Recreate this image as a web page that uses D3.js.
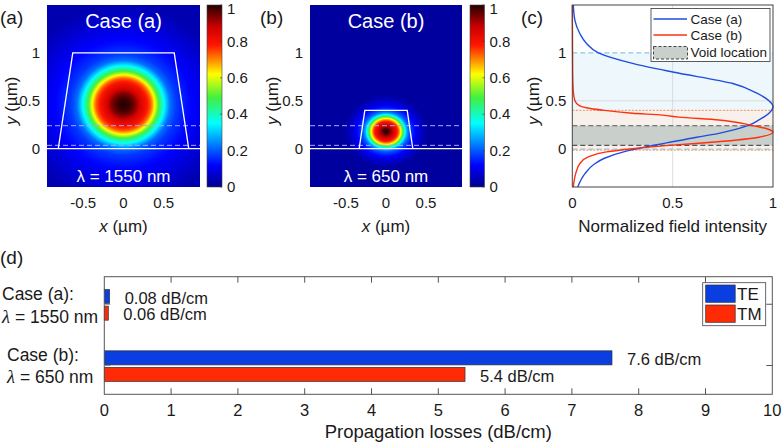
<!DOCTYPE html>
<html>
<head>
<meta charset="utf-8">
<script src="https://cdn.jsdelivr.net/npm/d3@7"></script>
<style>
    body { margin: 0; background: #fff; }
    text { font-family: "Liberation Sans", Arial, sans-serif; fill: #1a1a1a; }
</style>
</head>
<body>
<svg id="fig" width="783" height="444"></svg>
<script>
// ---- data ----
const mapXTicks = [-0.5, 0, 0.5];
const mapYTicks = [0, 0.5, 1];
const cbarTicks = [0, 0.2, 0.4, 0.6, 0.8, 1];

// radial mode profile (radius in um along x, normalized intensity)
const profileRadiusA = [0, 0.08, 0.15, 0.2, 0.28, 0.34, 0.38, 0.41, 0.45, 0.5, 0.54, 0.58, 0.66, 0.8, 1.0, 1.3];
const profileLevelA  = [1, 0.98, 0.93, 0.87, 0.8, 0.73, 0.64, 0.56, 0.46, 0.36, 0.29, 0.22, 0.17, 0.13, 0.09, 0.04];
const profileRadiusB = [0, 0.04, 0.06, 0.1, 0.15, 0.17, 0.19, 0.21, 0.225, 0.245, 0.26, 0.29, 0.34, 0.41, 0.52];
const profileLevelB  = [1, 0.97, 0.92, 0.86, 0.76, 0.68, 0.6, 0.5, 0.42, 0.34, 0.27, 0.2, 0.14, 0.08, 0.02];
const modeCenterA = [0, 0.46];
const modeCenterB = [0, 0.18];

const waveguideA = [[-0.81, 0], [-0.63, 1], [0.63, 1], [0.81, 0]];
const waveguideB = [[-0.335, 0], [-0.265, 0.40], [0.265, 0.40], [0.335, 0]];
const voidEdges = [0.035, 0.24];
const coreEdgesA = [-0.005, 1.0];
const coreEdgesB = [-0.015, 0.40];

// vertical cuts at x = 0 (panel c)
const cutYA = [-0.40, -0.26, -0.16, -0.10, -0.03, 0.02, 0.06, 0.12, 0.16, 0.245, 0.30, 0.37, 0.44, 0.50, 0.58, 0.68, 0.80, 0.89, 1.00, 1.10, 1.20, 1.34, 1.50];
const cutIA = [0.027, 0.063, 0.11, 0.16, 0.26, 0.37, 0.47, 0.62, 0.73, 0.88, 0.93, 0.98, 1.00, 0.98, 0.92, 0.80, 0.50, 0.30, 0.13, 0.07, 0.038, 0.013, 0.005];
const cutYB = [-0.40, -0.26, -0.155, -0.086, -0.033, 0.0, 0.037, 0.07, 0.12, 0.175, 0.20, 0.245, 0.30, 0.33, 0.35, 0.37, 0.40, 0.42, 0.45, 0.50, 0.60, 0.80, 1.50];
const cutIB = [0.005, 0.017, 0.038, 0.08, 0.17, 0.30, 0.50, 0.71, 0.93, 1.0, 0.98, 0.89, 0.73, 0.53, 0.45, 0.30, 0.16, 0.09, 0.035, 0.013, 0.005, 0.002, 0.0];
const cutXTicks = [0, 0.5, 1];

// propagation losses (panel d)
const lossCases = [1, 2];
const lossTE = [0.08, 7.6];
const lossTM = [0.06, 5.4];
const lossXTicks = d3.range(0, 11);

// ---- styles ----
const cmapDomain = [0, 0.12, 0.35, 0.49, 0.62, 0.7, 0.78, 0.88, 1];
const cmapColors = ['#00008a', '#0000ff', '#00ffff', '#40f040', '#ffff00', '#ff8800', '#ff1500', '#cc0000', '#240000'];
const cmap = d3.scaleLinear().domain(cmapDomain).range(cmapColors).clamp(true);

const svg = d3.select('#fig');
const defs = svg.append('defs');

// shared vertical scale for panels a-c
const yS = d3.scaleLinear().domain([-0.4, 1.5]).range([187, 5]);

/**
 * Draw one field map with its colorbar
 */
function drawFieldMap(cfg) {
    const xS = d3.scaleLinear().domain([-0.95, 0.95]).range([cfg.x0, cfg.x1]);
    const g = svg.append('g');

    defs.append('clipPath').attr('id', 'clip-' + cfg.id)
        .append('rect')
        .attr('x', cfg.x0).attr('y', yS(1.5))
        .attr('width', cfg.x1 - cfg.x0).attr('height', yS(-0.4) - yS(1.5));

    // radial gradient built from the profile
    const grad = defs.append('radialGradient').attr('id', 'mode-' + cfg.id);
    const rMax = cfg.radius[cfg.radius.length - 1];
    cfg.radius.forEach((r, i) => {
        const nSub = i < cfg.radius.length - 1 ? 8 : 1;
        for (let k = 0; k < nSub; k++) {
            const t = k / nSub;
            const rr = i < cfg.radius.length - 1 ? r + (cfg.radius[i + 1] - r) * t : r;
            const lv = i < cfg.radius.length - 1 ? cfg.level[i] + (cfg.level[i + 1] - cfg.level[i]) * t : cfg.level[i];
            grad.append('stop').attr('offset', rr / rMax).attr('stop-color', cmap(lv));
        }
    });

    const img = g.append('g').attr('clip-path', `url(#clip-${cfg.id})`);
    img.append('rect')
        .attr('x', cfg.x0).attr('y', yS(1.5))
        .attr('width', cfg.x1 - cfg.x0).attr('height', yS(-0.4) - yS(1.5))
        .attr('fill', cmap(cfg.level[cfg.level.length - 1]));
    img.append('ellipse')
        .attr('cx', xS(cfg.center[0])).attr('cy', yS(cfg.center[1]))
        .attr('rx', xS(rMax) - xS(0))
        .attr('ry', yS(0) - yS(rMax * cfg.aspect))
        .attr('fill', `url(#mode-${cfg.id})`);

    // void location
    img.selectAll('line.void')
        .data(voidEdges)
        .enter().append('line')
        .attr('x1', cfg.x0).attr('x2', cfg.x1)
        .attr('y1', d => yS(d)).attr('y2', d => yS(d))
        .attr('stroke', '#a8a8ff').attr('stroke-width', 1)
        .attr('stroke-dasharray', '5,3');

    // substrate line and waveguide outline
    img.append('line')
        .attr('x1', cfg.x0).attr('x2', cfg.x1)
        .attr('y1', yS(0)).attr('y2', yS(0))
        .attr('stroke', '#fff').attr('stroke-width', 1.3);
    img.append('path')
        .attr('d', d3.line().x(d => xS(d[0])).y(d => yS(d[1]))(cfg.guide))
        .attr('fill', 'none').attr('stroke', '#fff').attr('stroke-width', 1.3);

    img.append('text')
        .attr('x', xS(0)).attr('y', 28)
        .attr('text-anchor', 'middle')
        .style('font-size', '20px').style('fill', '#fff')
        .text(cfg.title);
    img.append('text')
        .attr('x', xS(0)).attr('y', 182)
        .attr('text-anchor', 'middle')
        .style('font-size', '17px').style('fill', '#fff')
        .text(cfg.lambda);

    // tick labels
    g.selectAll('text.xt')
        .data(mapXTicks)
        .enter().append('text')
        .attr('x', d => xS(d)).attr('y', 208)
        .attr('text-anchor', 'middle')
        .style('font-size', '15px')
        .text(d => d);
    g.selectAll('text.yt')
        .data(mapYTicks)
        .enter().append('text')
        .attr('x', cfg.x0 - 7).attr('y', d => yS(d))
        .attr('dy', '0.35em')
        .attr('text-anchor', 'end')
        .style('font-size', '15px')
        .text(d => d);

    const xl = g.append('text')
        .attr('x', xS(0)).attr('y', 232)
        .attr('text-anchor', 'middle')
        .style('font-size', '17px');
    xl.append('tspan').style('font-style', 'italic').text('x');
    xl.append('tspan').text(' (µm)');

    const yl = g.append('text')
        .attr('transform', `translate(${cfg.yLabelX},${yS(0.5)}) rotate(-90)`)
        .attr('dy', '0.35em')
        .attr('text-anchor', 'middle')
        .style('font-size', '17px');
    yl.append('tspan').style('font-style', 'italic').text('y');
    yl.append('tspan').text(' (µm)');

    g.append('text')
        .attr('x', cfg.letterX).attr('y', 24)
        .style('font-size', '19px')
        .text(cfg.letter);

    // colorbar
    const cS = d3.scaleLinear().domain([0, 1]).range([yS(-0.4), yS(1.5)]);
    const cg = defs.append('linearGradient').attr('id', 'cbar-' + cfg.id)
        .attr('x1', 0).attr('y1', 1).attr('x2', 0).attr('y2', 0);
    cmapDomain.forEach((d, i) => {
        cg.append('stop').attr('offset', d).attr('stop-color', cmapColors[i]);
    });
    g.append('rect')
        .attr('x', cfg.cbX).attr('y', cS(1))
        .attr('width', cfg.cbW).attr('height', cS(0) - cS(1))
        .attr('fill', `url(#cbar-${cfg.id})`)
        .attr('stroke', '#444').attr('stroke-width', 0.6);
    g.selectAll('line.cbt')
        .data(cbarTicks)
        .enter().append('line')
        .attr('x1', cfg.cbX + cfg.cbW - 2).attr('x2', cfg.cbX + cfg.cbW)
        .attr('y1', d => cS(d)).attr('y2', d => cS(d))
        .attr('stroke', '#333').attr('stroke-width', 0.6);
    g.selectAll('text.cbl')
        .data(cbarTicks)
        .enter().append('text')
        .attr('x', cfg.cbX + cfg.cbW + 5)
        .attr('y', d => Math.max(cS(d), 8.5))
        .attr('dy', '0.35em')
        .style('font-size', '15px')
        .text(d => d);
}

drawFieldMap({
    id: 'a', x0: 47, x1: 200, cbX: 207, cbW: 15, letter: '(a)', letterX: 0, yLabelX: 11,
    title: 'Case (a)', lambda: 'λ = 1550 nm',
    radius: profileRadiusA, level: profileLevelA, center: modeCenterA, aspect: 0.8,
    guide: waveguideA
});
drawFieldMap({
    id: 'b', x0: 310, x1: 462, cbX: 470, cbW: 14.5, letter: '(b)', letterX: 260, yLabelX: 272,
    title: 'Case (b)', lambda: 'λ = 650 nm',
    radius: profileRadiusB, level: profileLevelB, center: modeCenterB, aspect: 0.73,
    guide: waveguideB
});

// ---- panel (c): cuts ----
(function drawCuts() {
    const xC = d3.scaleLinear().domain([0, 1]).range([572.3, 773]);
    const g = svg.append('g');

    const bands = [
        { e: coreEdgesA, fill: '#eef8fc' },
        { e: coreEdgesB, fill: '#f7f0eb' },
        { e: voidEdges, fill: '#c9d0cb' }
    ];
    g.selectAll('rect.band')
        .data(bands)
        .enter().append('rect')
        .attr('x', xC(0)).attr('width', xC(1) - xC(0))
        .attr('y', d => yS(d.e[1]))
        .attr('height', d => yS(d.e[0]) - yS(d.e[1]))
        .attr('fill', d => d.fill);

    // grid
    g.append('line')
        .attr('x1', xC(0.5)).attr('x2', xC(0.5))
        .attr('y1', yS(1.5)).attr('y2', yS(-0.4))
        .attr('stroke', '#cfcfcf').attr('stroke-opacity', 0.7);
    g.append('line')
        .attr('x1', xC(0)).attr('x2', xC(1))
        .attr('y1', yS(0.5)).attr('y2', yS(0.5))
        .attr('stroke', '#cfcfcf').attr('stroke-opacity', 0.7);

    const edgeLines = [
        { v: coreEdgesA[0], c: '#8ec6e8', dash: '5,3' },
        { v: coreEdgesA[1], c: '#8ec6e8', dash: '5,3' },
        { v: coreEdgesB[0], c: '#f4a070', dash: '2,1.5' },
        { v: coreEdgesB[1], c: '#f4a070', dash: '2,1.5' },
        { v: voidEdges[0], c: '#555', dash: '5,3' },
        { v: voidEdges[1], c: '#555', dash: '5,3' }
    ];
    g.selectAll('line.edge')
        .data(edgeLines)
        .enter().append('line')
        .attr('x1', xC(0)).attr('x2', xC(1))
        .attr('y1', d => yS(d.v)).attr('y2', d => yS(d.v))
        .attr('stroke', d => d.c).attr('stroke-width', 1.1)
        .attr('stroke-dasharray', d => d.dash);

    const line = d3.line()
        .x(d => xC(d[1])).y(d => yS(d[0]))
        .curve(d3.curveMonotoneY);
    g.append('path')
        .attr('d', line(cutYA.map((y, i) => [y, cutIA[i]])))
        .attr('fill', 'none').attr('stroke', '#1f4de0').attr('stroke-width', 1.4);
    g.append('path')
        .attr('d', line(cutYB.map((y, i) => [y, cutIB[i]])))
        .attr('fill', 'none').attr('stroke', '#ff3010').attr('stroke-width', 1.4);

    g.append('rect')
        .attr('x', xC(0)).attr('y', yS(1.5))
        .attr('width', xC(1) - xC(0)).attr('height', yS(-0.4) - yS(1.5))
        .attr('fill', 'none').attr('stroke', '#444').attr('stroke-width', 1);

    g.selectAll('text.xt')
        .data(cutXTicks)
        .enter().append('text')
        .attr('x', d => xC(d)).attr('y', 208)
        .attr('text-anchor', 'middle')
        .style('font-size', '15px')
        .text(d => d);
    g.selectAll('text.yt')
        .data(mapYTicks)
        .enter().append('text')
        .attr('x', xC(0) - 6).attr('y', d => yS(d))
        .attr('dy', '0.35em')
        .attr('text-anchor', 'end')
        .style('font-size', '15px')
        .text(d => d);
    g.append('text')
        .attr('x', (xC(0) + xC(1)) / 2).attr('y', 232)
        .attr('text-anchor', 'middle')
        .style('font-size', '17px')
        .text('Normalized field intensity');
    const yl = g.append('text')
        .attr('transform', `translate(533,${yS(0.5)}) rotate(-90)`)
        .attr('dy', '0.35em')
        .attr('text-anchor', 'middle')
        .style('font-size', '17px');
    yl.append('tspan').style('font-style', 'italic').text('y');
    yl.append('tspan').text(' (µm)');
    g.append('text')
        .attr('x', 521).attr('y', 24)
        .style('font-size', '19px')
        .text('(c)');

    // legend
    const lg = g.append('g');
    lg.append('rect')
        .attr('x', 651).attr('y', 8.5).attr('width', 119).attr('height', 53)
        .attr('fill', '#fff').attr('stroke', '#333').attr('stroke-width', 0.8);
    const items = [
        { label: 'Case (a)', c: '#1f4de0', y: 19 },
        { label: 'Case (b)', c: '#ff3010', y: 35 }
    ];
    items.forEach(it => {
        lg.append('line')
            .attr('x1', 653.5).attr('x2', 687).attr('y1', it.y).attr('y2', it.y)
            .attr('stroke', it.c).attr('stroke-width', 1.4);
        lg.append('text')
            .attr('x', 690.5).attr('y', it.y).attr('dy', '0.35em')
            .style('font-size', '13.5px').text(it.label);
    });
    lg.append('rect')
        .attr('x', 653.5).attr('y', 46.5).attr('width', 34).attr('height', 12.5)
        .attr('fill', '#c9d0cb').attr('stroke', '#444').attr('stroke-width', 1)
        .attr('stroke-dasharray', '3,2');
    lg.append('text')
        .attr('x', 690.5).attr('y', 52.5).attr('dy', '0.35em')
        .style('font-size', '13.5px').text('Void location');
})();

// ---- panel (d): losses ----
(function drawLosses() {
    const xD = d3.scaleLinear().domain([0, 10]).range([104.3, 772.3]);
    const yD = d3.scaleLinear().domain([0.55, 2.47]).range([276.7, 394.3]);
    const g = svg.append('g');
    const barH = yD(0.23) - yD(0);
    const series = [
        { name: 'TE', values: lossTE, off: -0.125, fill: '#0a3ee0' },
        { name: 'TM', values: lossTM, off: 0.145, fill: '#ff2a06' }
    ];

    series.forEach(s => {
        g.selectAll(null)
            .data(lossCases)
            .enter().append('rect')
            .attr('x', xD(0))
            .attr('y', (d, i) => yD(d + s.off) - barH / 2)
            .attr('width', (d, i) => xD(s.values[i]) - xD(0))
            .attr('height', barH)
            .attr('fill', s.fill)
            .attr('stroke', '#333').attr('stroke-width', 0.7);
        g.selectAll(null)
            .data(lossCases)
            .enter().append('text')
            .attr('x', (d, i) => xD(s.values[i]) + 15)
            .attr('y', (d, i) => yD(d + s.off) + 1.5)
            .attr('dy', '0.35em')
            .style('font-size', '16.5px')
            .text((d, i) => `${s.values[i]} dB/cm`);
    });

    // axes box and ticks
    g.append('rect')
        .attr('x', xD(0)).attr('y', yD(0.55))
        .attr('width', xD(10) - xD(0)).attr('height', yD(2.47) - yD(0.55))
        .attr('fill', 'none').attr('stroke', '#555').attr('stroke-width', 1);
    g.selectAll('line.bt')
        .data(lossXTicks.slice(1, -1))
        .enter().append('line')
        .attr('x1', d => xD(d)).attr('x2', d => xD(d))
        .attr('y1', yD(2.47)).attr('y2', yD(2.47) - 6)
        .attr('stroke', '#555');
    g.selectAll('line.tt')
        .data(lossXTicks.slice(1, -1))
        .enter().append('line')
        .attr('x1', d => xD(d)).attr('x2', d => xD(d))
        .attr('y1', yD(0.55)).attr('y2', yD(0.55) + 6)
        .attr('stroke', '#555');
    g.selectAll('line.rt')
        .data(lossCases)
        .enter().append('line')
        .attr('x1', xD(10)).attr('x2', xD(10) - 6)
        .attr('y1', d => yD(d)).attr('y2', d => yD(d))
        .attr('stroke', '#555');
    g.selectAll('line.lt')
        .data(lossCases)
        .enter().append('line')
        .attr('x1', xD(0)).attr('x2', xD(0) + 6)
        .attr('y1', d => yD(d)).attr('y2', d => yD(d))
        .attr('stroke', '#888');

    g.selectAll('text.xt')
        .data(lossXTicks)
        .enter().append('text')
        .attr('x', d => xD(d)).attr('y', 416)
        .attr('text-anchor', 'middle')
        .style('font-size', '16.5px')
        .text(d => d);
    g.append('text')
        .attr('x', (xD(0) + xD(10)) / 2).attr('y', 438)
        .attr('text-anchor', 'middle')
        .style('font-size', '18.5px')
        .text('Propagation losses (dB/cm)');

    // category labels
    const cats = [
        { t: 'Case (a):', l: '1550 nm', x: 2, y1: 300, y2: 323 },
        { t: 'Case (b):', l: '650 nm', x: 7, y1: 361, y2: 383 }
    ];
    cats.forEach(c => {
        g.append('text').attr('x', c.x).attr('y', c.y1)
            .style('font-size', '17.5px').text(c.t);
        const t2 = g.append('text').attr('x', c.x).attr('y', c.y2)
            .style('font-size', '17.5px');
        t2.append('tspan').style('font-family', '"Liberation Serif", serif')
            .style('font-style', 'italic').style('font-size', '18.5px').text('λ');
        t2.append('tspan').text(' = ' + c.l);
    });

    g.append('text').attr('x', 0).attr('y', 264)
        .style('font-size', '19px').text('(d)');

    // legend
    const lg = g.append('g');
    lg.append('rect')
        .attr('x', 702.7).attr('y', 282.7).attr('width', 63).attr('height', 43)
        .attr('fill', '#fff').attr('stroke', '#444').attr('stroke-width', 0.8);
    series.forEach((s, i) => {
        lg.append('rect')
            .attr('x', 705.7).attr('y', 285 + i * 20)
            .attr('width', 29.5).attr('height', 17.3)
            .attr('fill', s.fill).attr('stroke', '#333').attr('stroke-width', 0.7);
        lg.append('text')
            .attr('x', 737).attr('y', 285 + i * 20 + 8.7).attr('dy', '0.35em')
            .style('font-size', '17px').text(s.name);
    });
})();
</script>
</body>
</html>
